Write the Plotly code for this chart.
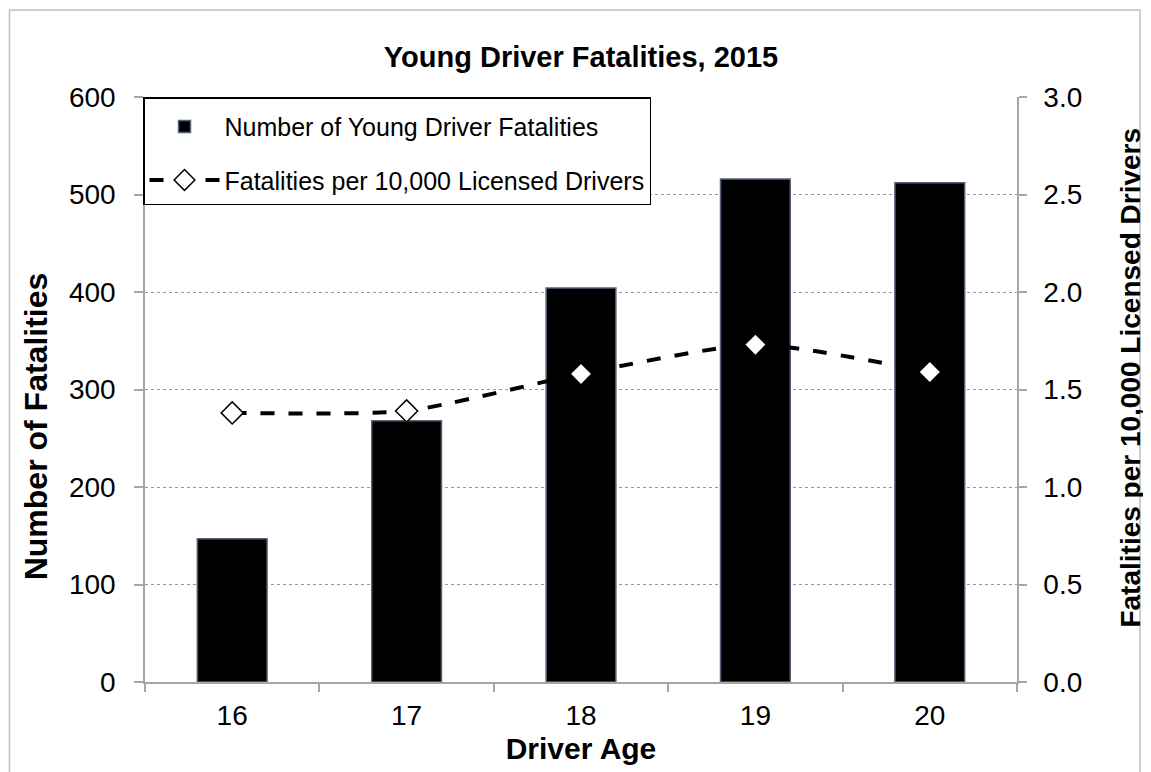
import plotly.graph_objects as go

ages = ["16", "17", "18", "19", "20"]
fatalities = [147, 268, 404, 516, 512]
rate_per_10k = [1.38, 1.39, 1.58, 1.73, 1.59]

FONT = "Arial, 'Liberation Sans', sans-serif"
AXIS_GRAY = "#a6a6a6"

# page body has an 8px margin, so the figure is drawn at (8, 8)
W, H = 1143, 764
L, R, T, B = 137, 134, 89, 87
PW, PH = W - L - R, H - T - B


def px_x(page_x):
    return (page_x - 8 - L) / PW


def px_y(page_y):
    return (T + PH - (page_y - 8)) / PH


fig = go.Figure()
fig.add_trace(go.Bar(
    x=ages, y=fatalities, name="Number of Young Driver Fatalities",
    marker=dict(color="black", line=dict(color="#56627a", width=1.5)),
    width=0.4, legendgroup="a",
))
fig.add_trace(go.Scatter(
    x=ages, y=rate_per_10k, yaxis="y2", mode="lines+markers",
    name="Fatalities per 10,000 Licensed Drivers",
    line=dict(color="black", width=4, dash="14px,14px", shape="spline", smoothing=0.6),
    marker=dict(symbol="diamond", size=17, color="white", line=dict(color="black", width=1.5)),
    legendgroup="b",
))

fig.update_layout(
    width=W, height=H,
    margin=dict(l=L, r=R, t=T, b=B),
    paper_bgcolor="white", plot_bgcolor="white",
    font=dict(family=FONT, size=25, color="black"),
    title=dict(text="<b>Young Driver Fatalities, 2015</b>", x=0.5, xref="paper",
               xanchor="center", y=1 - 49 / H, yanchor="middle",
               font=dict(size=29, family=FONT)),
    showlegend=True,
    legend=dict(x=-2 / PW, y=1.0, xanchor="left", yanchor="top",
                bgcolor="white", bordercolor="black", borderwidth=1.5,
                font=dict(size=25, family=FONT), itemwidth=70,
                title=dict(text=" ", font=dict(size=4)),
                traceorder="grouped", tracegroupgap=18),
    xaxis=dict(
        title=dict(text="<b>Driver Age</b>", font=dict(size=30), standoff=8),
        type="category", tickson="boundaries",
        showline=True, linecolor=AXIS_GRAY, linewidth=1.5,
        ticks="outside", tickcolor=AXIS_GRAY, ticklen=8, tickwidth=1.5,
        ticklabelstandoff=8,
        showgrid=False, tickfont=dict(size=28),
    ),
    yaxis=dict(
        range=[0, 600], dtick=100, tickformat="d",
        showline=True, linecolor=AXIS_GRAY, linewidth=1.5,
        ticks="outside", tickcolor=AXIS_GRAY, ticklen=9, tickwidth=1.5,
        ticklabelstandoff=13,
        showgrid=True, gridcolor="#9a9a9a", griddash="dot", gridwidth=1,
        zeroline=False, tickfont=dict(size=28),
    ),
    yaxis2=dict(
        overlaying="y", side="right", range=[0, 3], dtick=0.5, tickformat=".1f",
        showline=True, linecolor=AXIS_GRAY, linewidth=1.5,
        ticks="outside", tickcolor=AXIS_GRAY, ticklen=8, tickwidth=1.5,
        ticklabelstandoff=11,
        showgrid=False, zeroline=False, tickfont=dict(size=28),
    ),
    annotations=[
        dict(text="<b>Number of Fatalities</b>", textangle=-90, showarrow=False,
             xref="paper", yref="paper", x=px_x(36), y=px_y(428),
             xanchor="center", yanchor="middle", font=dict(size=32)),
        dict(text="<b>Fatalities per 10,000 Licensed Drivers</b>", textangle=-90, showarrow=False,
             xref="paper", yref="paper", x=px_x(1131), y=px_y(379),
             xanchor="center", yanchor="middle", font=dict(size=28)),
    ],
    shapes=[dict(
        type="rect", xref="paper", yref="paper",
        x0=px_x(9.5), x1=px_x(1140),
        y0=px_y(800), y1=px_y(9.5),
        line=dict(color="#bfbfbf", width=1.5), fillcolor="rgba(0,0,0,0)", layer="below",
    )],
)

fig.write_html("out.html")
